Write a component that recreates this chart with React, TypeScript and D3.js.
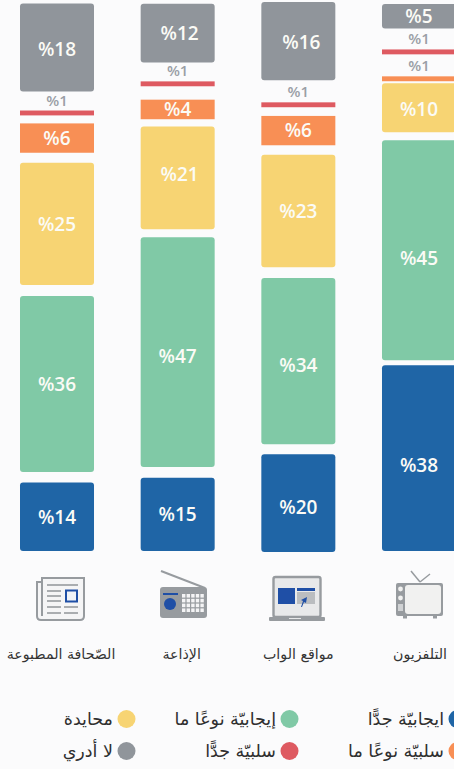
import React from 'react'
import * as d3 from 'd3'

const width = 454
const height = 769

// left to right, as in the picture
const media = ['الصّحافة المطبوعة', 'الإذاعة', 'مواقع الواب', 'التلفزيون']
const keys = ['veryPositive', 'positive', 'neutral', 'negative', 'veryNegative', 'unknown']
const legendLabels = ['ايجابيّة جدًّا', 'إيجابيّة نوعًا ما', 'محايدة', 'سلبيّة نوعًا ما', 'سلبيّة جدًّا', 'لا أدري']

const veryPositive = [14, 15, 20, 38]
const positive = [36, 47, 34, 45]
const neutral = [25, 21, 23, 10]
const negative = [6, 4, 6, 1]
const veryNegative = [1, 1, 1, 1]
const unknown = [18, 12, 16, 5]
const seriesValues = [veryPositive, positive, neutral, negative, veryNegative, unknown]

const colors = ['#1f65a6', '#80c9a6', '#f7d473', '#f88f55', '#de5a61', '#90959b']
const iconGray = '#979b9f'
const iconBlue = '#1f4fa6'

// empty space under each segment, px, per column
const gaps = [
  [0, 10.5, 11, 10, 8, 19],
  [0, 10.6, 8, 7.3, 13.4, 19],
  [-1, 10, 10.7, 9.5, 8.7, 22],
  [0, 5, 8, 2, 22, 21],
]

// the labels don't sit dead centre in the original
const labelDx = [
  [0, 0, 0, 0, 0, 0],
  [0, 0, 2, 0, 0, 2],
  [0, 0, 0, 0, 0, 3],
  [0, 0, 0, 0, 0, 0],
]
const labelDy = [
  [1, 0, 1, 0, 0, 2],
  [0, 4, -3, 0, 0, 0],
  [4, 4, 0, 0, 0, 1],
  [7, 8, 2, 0, 0, 0],
]

const rows = media.map((m, i) => {
  const row: any = { media: m }
  keys.forEach((k, j) => { row[k] = seriesValues[j][i] })
  return row
})
const stacked = d3.stack().keys(keys)(rows)

const x = d3.scaleBand().domain(media).range([20, 456]).paddingInner(0.3867).paddingOuter(0)
const h = d3.scaleLinear().domain([0, 100]).range([0, 489])
const baseline = 551

const arabicFont = '"DejaVu Sans", sans-serif'
const numFont = '"Open Sans", sans-serif'
const catDx = [4, 4, 0, 1]

const NewsIcon = () => (
  <g>
    <path d="M42 582 H37 V616 Q37 620 41 620 H80 Q84 620 84 616 V578 H42 V616" fill="#f5f5f6" stroke={iconGray} strokeWidth={2} />
    <g stroke={iconGray} strokeWidth={1.6}>
      <line x1={47} x2={78} y1={585} y2={585} />
      <line x1={47} x2={61} y1={591} y2={591} />
      <line x1={47} x2={61} y1={596} y2={596} />
      <line x1={47} x2={61} y1={601} y2={601} />
      <line x1={47} x2={61} y1={607} y2={607} />
      <line x1={47} x2={61} y1={613} y2={613} />
      <line x1={64} x2={78} y1={607} y2={607} />
      <line x1={64} x2={78} y1={613} y2={613} />
    </g>
    <rect x={66} y={590.5} width={11} height={11} fill="#f0f3f8" stroke={iconBlue} strokeWidth={2} />
  </g>
)

const RadioIcon = () => (
  <g>
    <line x1={161} y1={571} x2={205} y2={588} stroke={iconGray} strokeWidth={2} />
    <rect x={160} y={587} width={47} height={31} rx={3} fill={iconGray} />
    <rect x={163} y={593} width={15} height={2} fill={iconBlue} />
    <circle cx={170} cy={604} r={6} fill={iconBlue} />
    <g fill="#f4f4f5">
      {d3.range(4).flatMap(r => d3.range(5).map(c => (
        <rect key={`${r}-${c}`} x={182 + c * 4.6} y={594 + r * 4.8} width={3.4} height={3.6} />
      )))}
    </g>
  </g>
)

const WebIcon = () => (
  <g>
    <rect x={273.5} y={577} width={47} height={40} rx={2} fill="#e8e9ea" stroke={iconGray} strokeWidth={2.4} />
    <rect x={269} y={617} width={56} height={4} rx={1} fill={iconGray} />
    <rect x={289} y={618} width={12} height={1} fill="#e8e9ea" />
    <rect x={278} y={588} width={17} height={16} fill={iconBlue} />
    <rect x={297} y={588} width={18} height={3} fill={iconBlue} />
    <rect x={297} y={592} width={18} height={12} fill="#babdc0" />
    <path d="M301 607 L303 601 L301 600 L307 597 L306 603 L304 602 L302 607 Z" fill={iconBlue} />
  </g>
)

const TvIcon = () => (
  <g>
    <line x1={411} y1={571} x2={420} y2={582} stroke={iconGray} strokeWidth={1.5} />
    <line x1={430} y1={574} x2={420} y2={582} stroke={iconGray} strokeWidth={1.5} />
    <rect x={396} y={583} width={47} height={33} rx={2} fill={iconGray} />
    <rect x={405} y={585} width={36} height={29} rx={3} fill="#f1f1f0" />
    <circle cx={400.5} cy={589} r={2.4} fill="#f1f1f0" />
    <circle cx={400.5} cy={598} r={2.4} fill="#f1f1f0" />
    <rect x={398} y={604} width={5} height={7} fill="#d0d2d4" />
    <rect x={403} y={616} width={4} height={2.5} fill={iconGray} />
    <rect x={433} y={616} width={4} height={2.5} fill={iconGray} />
  </g>
)

const icons = [NewsIcon, RadioIcon, WebIcon, TvIcon]

const legendX = [444, 276, 113]
const legendY = [719, 751]

export default function App() {
  return (
    <svg width={width} height={height} style={{ position: 'absolute', left: 0, top: 0, background: '#fbfbfc' }}>
      {media.map((m, i) => {
        let offset = 0
        return (
          <g key={m}>
            {stacked.map((s, j) => {
              offset += gaps[i][j]
              const y = baseline - h(s[i][1]) - offset
              const barH = h(s[i][1]) - h(s[i][0])
              const v = seriesValues[j][i]
              const cx = x(m)! + x.bandwidth() / 2
              const small = v <= 1
              return (
                <g key={s.key}>
                  <rect x={x(m)} y={y} width={x.bandwidth()} height={barH} fill={colors[j]} rx={v > 6 || j === 5 ? 3 : 0} />
                  <text
                    x={cx + labelDx[i][j]}
                    y={(small ? y - 5 : y + barH / 2 + 6.5) + labelDy[i][j]}
                    textAnchor="middle"
                    direction="ltr"
                    fontFamily={numFont}
                    fontWeight={600}
                    fontSize={small ? 15 : 19}
                    fill={small ? '#9a9fa6' : '#fbfbf6'}
                  >
                    {'%' + v}
                  </text>
                </g>
              )
            })}
            {React.createElement(icons[i])}
            <text x={x(m)! + x.bandwidth() / 2 + catDx[i]} y={659} textAnchor="middle" direction="rtl" fontFamily={arabicFont} fontSize={14.2} fill="#333">
              {m}
            </text>
          </g>
        )
      })}
      {keys.map((k, j) => {
        const lx = legendX[j % 3]
        const ly = legendY[Math.floor(j / 3)]
        return (
          <g key={k}>
            <circle cx={lx + 13.5} cy={ly} r={9} fill={colors[j]} />
            {/* with direction rtl, start is the right-hand edge */}
            <text x={lx} y={ly + 6} textAnchor="start" direction="rtl" fontFamily={arabicFont} fontSize={17.5} fill="#2f2f2f">
              {legendLabels[j]}
            </text>
          </g>
        )
      })}
    </svg>
  )
}
